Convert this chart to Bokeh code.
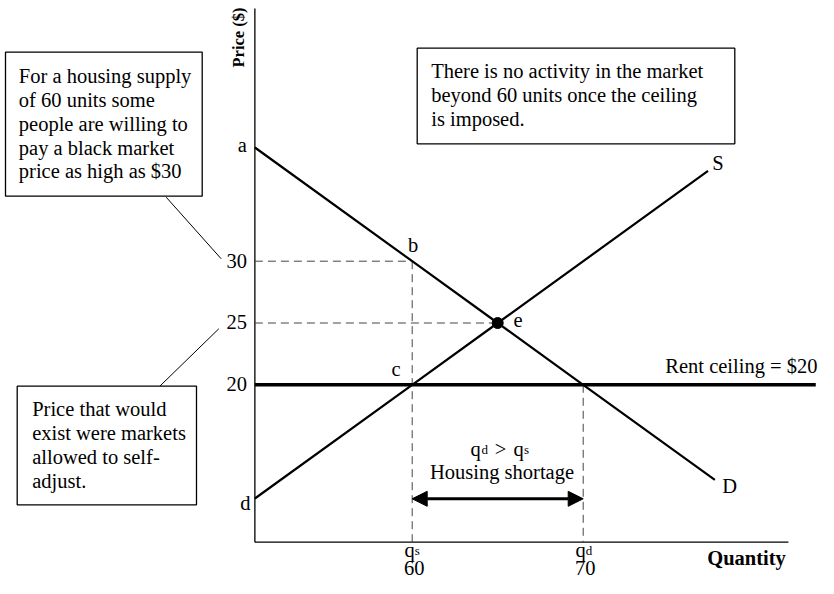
import math
from bokeh.plotting import figure
from bokeh.models import Arrow, NormalHead
from bokeh.core.properties import value
from bokeh.embed import file_html
from bokeh.resources import INLINE

# ---------------- data ----------------
Q_AXIS = [50.8, 82.0]          # extent of quantity axis
P_AXIS = [7.27, 50.45]         # extent of price axis
DEMAND_Q = [50.8, 60, 65, 70, 77.7]
DEMAND_P = [39.2, 30, 25, 20, 12.3]
SUPPLY_Q = [50.8, 60, 65, 77.3]
SUPPLY_P = [10.8, 20, 25, 37.3]
CEILING_P = 20
CEILING_Q_END = 83.6
EQ_Q, EQ_P = 65, 25
QS, QD = 60, 70
BLACK_MARKET_P = 30
PRICE_TICKS = [30, 25, 20]
PRICE_TICK_LABELS = ["30", "25", "20"]
QTY_TICKS = [60, 70]
QTY_TICK_LABELS = ["60", "70"]

TL_TEXT = ["For a housing supply", "of 60 units some", "people are willing to",
           "pay a black market", "price as high as $30"]
TR_TEXT = ["There is no activity in the market", "beyond 60 units once the ceiling",
           "is imposed."]
BL_TEXT = ["Price that would", "exist were markets", "allowed to self-", "adjust."]

# ---------------- layout helpers (canvas pixel -> data) ----------------
W, H = 818, 578
SX, SY = 17.1, 12.36
def qx(px):
    return 60 + (px - 411.7) / SX
def py(y):
    return 20 + (384.3 - y) / SY

FONT = value("Liberation Serif")
FS = "20.5px"
SUB = "13px"
BASE_FIX = 7.5  # px: renderer draws alphabetic text this much lower than asked

p = figure(width=W, height=H, x_range=(qx(0), qx(W)), y_range=(py(H), py(0)),
           output_backend="svg", toolbar_location=None, min_border=0,
           x_axis_type=None, y_axis_type=None)
p.grid.visible = False
p.outline_line_color = None
p.background_fill_color = "white"

# axes
p.line([Q_AXIS[0], Q_AXIS[0]], [P_AXIS[0], P_AXIS[1]], line_color="black", line_width=1.3)
p.line([Q_AXIS[0], Q_AXIS[1]], [P_AXIS[0], P_AXIS[0]], line_color="black", line_width=1.3)

# dashed guides
p.multi_line(
    xs=[[Q_AXIS[0], QS], [QS, QS], [Q_AXIS[0], EQ_Q], [QD, QD]],
    ys=[[BLACK_MARKET_P, BLACK_MARKET_P], [BLACK_MARKET_P, P_AXIS[0]],
        [EQ_P, EQ_P], [CEILING_P, P_AXIS[0]]],
    line_color="#444444", line_width=1, line_dash="8 5")

# ceiling
p.line([Q_AXIS[0], CEILING_Q_END], [CEILING_P, CEILING_P], line_color="black", line_width=3.5)
# demand and supply
p.line(DEMAND_Q, DEMAND_P, line_color="black", line_width=2.2)
p.line(SUPPLY_Q, SUPPLY_P, line_color="black", line_width=2.2)
# equilibrium
p.scatter([EQ_Q], [EQ_P], size=11, color="black")

# shortage arrow
p.add_layout(Arrow(start=NormalHead(size=15, fill_color="black", line_color="black"),
                   end=NormalHead(size=15, fill_color="black", line_color="black"),
                   x_start=QS, y_start=py(498.3), x_end=QD, y_end=py(498.3),
                   line_width=3, line_color="black"))

# leader lines
p.multi_line(xs=[[qx(165.7), qx(220.7)], [qx(159.3), qx(218.3)]],
             ys=[[py(196.7), py(258.3)], [py(385.7), py(328.3)]],
             line_color="black", line_width=1)

# boxes
p.quad(left=[qx(5), qx(416.7), qx(16.7)], right=[qx(201.7), qx(734.3), qx(196)],
       top=[py(51.7), py(47.7), py(385.7)], bottom=[py(195.7), py(143.3), py(504.3)],
       fill_color="white", line_color="black", line_width=1.3)

def txt(xs, ys, texts, align="left", size=FS, style="normal", baseline="alphabetic", angle=0):
    if baseline == "alphabetic":
        ys = [y + BASE_FIX / SY for y in ys]
    p.text(x=xs, y=ys, text=texts, text_font=FONT, text_font_size=size,
           text_font_style=style, text_align=align, text_baseline=baseline,
           text_color="black", angle=angle)

# box texts
txt([qx(18.3)] * 5, [py(b) for b in (83.3, 107, 130.7, 154.5, 178.3)], TL_TEXT)
txt([qx(430.7)] * 3, [py(b) for b in (78.3, 101.8, 125.5)], TR_TEXT)
txt([qx(31.7)] * 4, [py(b) for b in (416, 440, 464, 487.5)], BL_TEXT)

# price tick labels
txt([Q_AXIS[0] - 8 / SX] * 3, [t - 6.8 / SY for t in PRICE_TICKS], PRICE_TICK_LABELS, align="right")
# quantity tick labels
txt([t + 2 / SX for t in QTY_TICKS], [py(575.3)] * 2, QTY_TICK_LABELS, align="center")
txt([QS + 2.5 / SX, QD + 2.5 / SX], [py(557)] * 2, ["q", "q"], align="right")
txt([QS + 2.5 / SX, QD + 2.5 / SX], [py(557.5)] * 2, ["s", "d"], size=SUB)

# point labels
txt([Q_AXIS[0] - 8 / SX], [py(152)], ["a"], align="right")
txt([qx(412.5)], [py(251.5)], ["b"], align="center")
txt([qx(391)], [py(376)], ["c"])
txt([Q_AXIS[0] - 4.5 / SX], [py(510)], ["d"], align="right")
txt([qx(513)], [py(327)], ["e"])
txt([qx(711.7)], [py(170)], ["S"])
txt([qx(721.7)], [py(493)], ["D"])

# ceiling label
txt([qx(817)], [py(373)], ["Rent ceiling = $20"], align="right")

# shortage text
txt([qx(470), qx(513)], [py(456)] * 2, ["q", "q"])
txt([qx(481), qx(523.5)], [py(456.5)] * 2, ["d", "s"], size=SUB)
txt([qx(500)], [py(456)], [">"], align="center")
txt([qx(501.5)], [py(479)], ["Housing shortage"], align="center")

# axis titles
txt([qx(706.7)], [py(564.5)], ["Quantity"], style="bold")
txt([qx(237.5)], [py(37)], ["Price ($)"], align="center", size="16.5px", style="bold",
    baseline="middle", angle=math.pi / 2)

open("out.html", "w").write(file_html(p, INLINE))
